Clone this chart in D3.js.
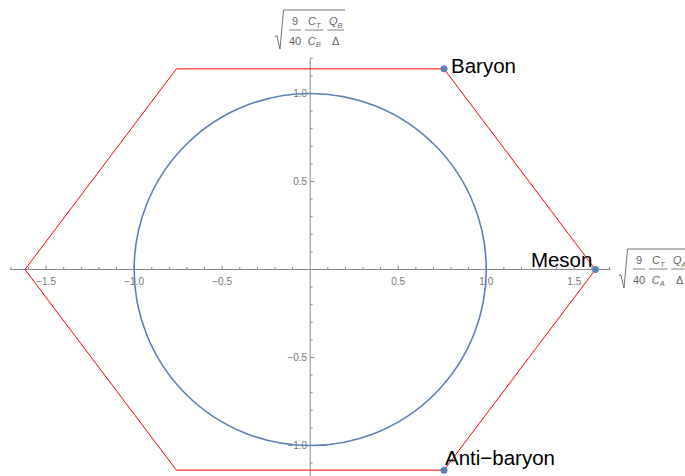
<!DOCTYPE html>
<html><head><meta charset="utf-8">
<script src="https://cdn.jsdelivr.net/npm/d3@7"></script>
<style>body{margin:0;background:#fff}svg{display:block;font-family:"Liberation Sans",Arial,sans-serif}</style>
</head><body><svg id="c" width="685" height="476"></svg>
<script>
// Data
const hexX = [1.62, 0.76, -0.76, -1.62, -0.76, 0.76];
const hexY = [0, 1.14, 1.14, 0, -1.14, -1.14];
const pointNames = ["Baryon", "Meson", "Anti\u2212baryon"];
const pointX = [0.76, 1.62, 0.76];
const pointY = [1.14, 0, -1.14];
const circleRadius = 1;
const majorTicksX = [-1.5, -1.0, -0.5, 0.5, 1.0, 1.5];
const majorTicksY = [-1.0, -0.5, 0.5, 1.0];
const tickLabel = v => (v < 0 ? "\u2212" : "") + Math.abs(v).toFixed(1);

const svg = d3.select("#c");
const x = d3.scaleLinear().domain([-1.705, 1.705]).range([10, 610.4]);
const y = d3.scaleLinear().domain([-1.2, 1.2]).range([480.7, 58.3]);
const axisCol = "#8a8a8a", labCol = "#777";

// minor ticks
const minorX = d3.range(-17, 18).map(i => i / 10).filter(v => Math.abs(v) > 1e-9);
const minorY = d3.range(-12, 13).map(i => i / 10).filter(v => Math.abs(v) > 1e-9);
const isMajor = v => Math.abs(v * 2 - Math.round(v * 2)) < 1e-9;

// axes
const ax = svg.append("g").attr("stroke", axisCol).attr("stroke-width", 1);
ax.append("line").attr("x1", x(-1.705)).attr("x2", x(1.705)).attr("y1", y(0)).attr("y2", y(0));
ax.append("line").attr("x1", x(0)).attr("x2", x(0)).attr("y1", y(1.2)).attr("y2", y(-1.2));
ax.selectAll(".tx").data(minorX).join("line")
  .attr("x1", d => x(d)).attr("x2", d => x(d))
  .attr("y1", y(0)).attr("y2", d => y(0) - (isMajor(d) ? 4 : 2.5));
ax.selectAll(".ty").data(minorY).join("line")
  .attr("y1", d => y(d)).attr("y2", d => y(d))
  .attr("x1", x(0)).attr("x2", d => x(0) + (isMajor(d) ? 4 : 2.5));

svg.append("g").selectAll("text").data(majorTicksX).join("text")
  .attr("x", d => x(d)).attr("y", y(0) + 15).attr("text-anchor", "middle")
  .attr("font-size", 10).attr("fill", labCol).text(tickLabel);
svg.append("g").selectAll("text").data(majorTicksY).join("text")
  .attr("x", x(0) - 3).attr("y", d => y(d) + 3.5).attr("text-anchor", "end")
  .attr("font-size", 10).attr("fill", labCol).text(tickLabel);

// hexagon
const line = d3.line().x(d => x(d[0])).y(d => y(d[1]));
const hexPts = hexX.map((v, i) => [v, hexY[i]]);
svg.append("path").attr("d", line(hexPts) + "Z").attr("fill", "none")
  .attr("stroke", "#ff0000").attr("stroke-width", 1);

// circle
svg.append("circle").attr("cx", x(0)).attr("cy", y(0))
  .attr("r", x(circleRadius) - x(0)).attr("fill", "none")
  .attr("stroke", "#5E81B5").attr("stroke-width", 1.6);

// points
svg.append("g").selectAll("circle").data(pointX).join("circle")
  .attr("cx", d => x(d)).attr("cy", (d, i) => y(pointY[i])).attr("r", 3.5).attr("fill", "#5E81B5");

// point labels
const offs = [[7, 4, "start"], [-3, -3, "end"], [1, -5, "start"]];
svg.append("g").selectAll("text").data(pointNames).join("text")
  .attr("x", (d, i) => x(pointX[i]) + offs[i][0])
  .attr("y", (d, i) => y(pointY[i]) + offs[i][1])
  .attr("text-anchor", (d, i) => offs[i][2])
  .attr("font-size", 20.5).attr("fill", "#000").text(d => d);

// axis labels (radical expressions)
function axLabel(x0, y0, sub) {
  const g = svg.append("g").attr("fill", "#666");
  g.append("path").attr("d", `M${x0},${y0 + 7} L${x0 + 1.8},${y0 + 5.5} L${x0 + 5},${y0 + 19} L${x0 + 8.5},${y0 - 20} L${x0 + 70},${y0 - 20}`)
    .attr("fill", "none").attr("stroke", "#666").attr("stroke-width", 0.9);
  const fr = [[20, 12, ["9"], ["40"]], [39.2, 18.3, ["C", "T"], ["C", sub]], [60.7, 16.7, ["Q", sub], ["\u0394"]]];
  fr.forEach(([cx, w, num, den]) => {
    g.append("line").attr("x1", x0 + cx - w / 2).attr("x2", x0 + cx + w / 2)
      .attr("y1", y0).attr("y2", y0).attr("stroke", "#666").attr("stroke-width", 0.8);
    [[num, y0 - 5], [den, y0 + 14.5]].forEach(([parts, by]) => {
      const t = g.append("text").attr("x", x0 + cx).attr("y", by).attr("text-anchor", "middle").attr("font-size", 11);
      const italic = parts.length > 1;
      t.append("tspan").attr("font-style", italic ? "italic" : "normal").text(parts[0]);
      if (parts.length > 1) t.append("tspan").attr("font-size", 7.5).attr("font-style", "italic").attr("dy", 2.5).text(parts[1]);
    });
  });
}
axLabel(275, 30, "B");
axLabel(619, 269, "A");
</script></body></html>
